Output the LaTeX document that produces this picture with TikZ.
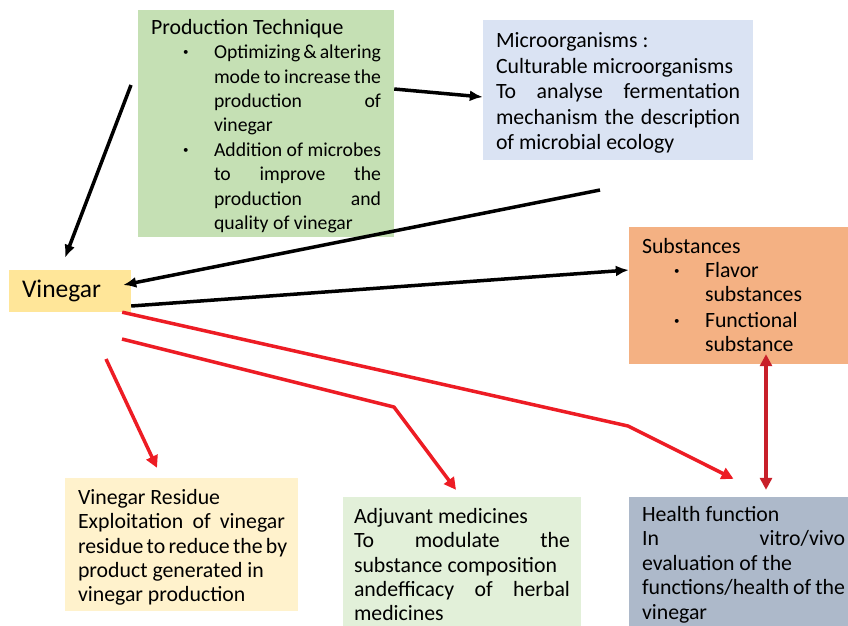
\documentclass[tikz,border=0pt]{standalone}
\usepackage{fontspec}
\setmainfont{Carlito}
\usepackage{xcolor}
\usepackage{tikz}
\usetikzlibrary{arrows.meta}

\definecolor{prodgreen}{HTML}{C5E0B4}
\definecolor{microblue}{HTML}{DAE3F3}
\definecolor{vinyellow}{HTML}{FFE699}
\definecolor{substorange}{HTML}{F4B183}
\definecolor{residyellow}{HTML}{FFF2CC}
\definecolor{adjgreen}{HTML}{E2F0D9}
\definecolor{healthgray}{HTML}{ADB9CA}
\definecolor{arrred}{HTML}{ED1C24}
\definecolor{dblred}{HTML}{C8202A}

\setlength{\lineskip}{0pt}
% bullet line: width of the text, text
\newcommand{\bitem}[2]{\par\noindent\strut\hspace*{32pt}%
  \makebox[31pt][l]{\raisebox{3pt}{\fontsize{11}{11}\selectfont\textbullet}}%
  \parbox[t]{#1}{#2\strut}}
% one justified line
\newcommand{\jline}[1]{\par\hbox to \hsize{#1}}

\begin{document}
\begin{tikzpicture}[x=1pt,y=-1pt]
        \tikzset{box/.style={inner xsep=13pt, inner ysep=0pt, align=justify,
        font=\fontsize{21.8}{24.4}\selectfont},
        blkarrow/.style={line width=3.5pt,-{Latex[length=13pt,width=11pt]}},
        redarrow/.style={draw=arrred,line width=3.5pt,line join=bevel,
        -{Triangle[length=12pt,width=12pt]}},
        dblarrow/.style={draw=dblred,line width=3.5pt,
        {Triangle[length=12pt,width=12pt]}-{Triangle[length=12pt,width=12pt]}}}
        \useasboundingbox (0,0) rectangle (848,625);

        % top row
        \node[box, fill=prodgreen, text width=230pt, minimum width=256pt,
        minimum height=225pt] (prod) at (266,123.5) {\rule{0pt}{24pt}Production Technique
        \bitem{167pt}{\fontsize{19.7}{24.2}\selectfont
        \jline{Optimizing \& altering}\jline{mode to increase the}%
        \jline{production of}\par vinegar}
        \bitem{167pt}{\fontsize{19.7}{24.2}\selectfont
        \jline{Addition of microbes}\jline{to improve the}%
        \jline{production and}\par quality of vinegar}};
        \node[box, fill=microblue, text width=244pt, minimum width=270pt,
        minimum height=140pt, font=\fontsize{21.8}{25.5}\selectfont] (micro) at (618,90)
        {\rule{0pt}{21pt}Microorganisms :\par Culturable microorganisms
        \jline{To analyse fermentation}\jline{mechanism the description}%
        \par of microbial ecology};

        % middle row
        \node[box, fill=vinyellow, text width=96pt, minimum width=122pt,
        minimum height=42pt, align=left, font=\fontsize{25.5}{30}\selectfont]
        (vin) at (70,291) {Vinegar};
        \node[box, fill=substorange, text width=195pt, minimum width=221pt,
        minimum height=137pt] (subst) at (739.5,295.5) {\rule{0pt}{21pt}Substances
        \bitem{131pt}{Flavor\par substances}
        \bitem{131pt}{Functional\par substance}};

        % bottom row
        \node[box, fill=residyellow, text width=207pt, minimum width=230pt,
        minimum height=133pt] (resid) at (181.5,544.5) {\rule{0pt}{21pt}Vinegar Residue
        \jline{Exploitation of vinegar}\jline{residue to reduce the by}%
        \par product generated in\par vinegar production};
        \node[box, fill=adjgreen, text width=216pt, minimum width=238pt,
        minimum height=135pt, inner xsep=11pt] (adjuv) at (462,564.5)
        {Adjuvant medicines
        \jline{To modulate the}\par substance composition
        \jline{andefficacy of herbal}\par medicines};
        \node[box, fill=healthgray, text width=203pt, minimum width=229pt,
        minimum height=135pt] (health) at (743.5,564.5) {Health function
        \jline{In vitro/vivo}\par evaluation of the\par
        functions/health of the\par vinegar};

        % free ends and bends
        \coordinate (prodleft) at (131,85);
        \coordinate (microbelow) at (600,190);
        \coordinate (vinlow) at (122,339);
        \coordinate (vinfoot) at (106,359);
        \coordinate (bendhealth) at (628,426);
        \coordinate (bendadjuv) at (394,407);

        % black arrows
        \draw[blkarrow] (prodleft) -- ([xshift=-5pt,yshift=12pt]vin.north);
        \draw[blkarrow] ([yshift=34.5pt]prod.east) -- ([yshift=-7pt]micro.west);
        \draw[blkarrow] (microbelow) -- ([xshift=-8pt,yshift=6pt]vin.east);
        \draw[blkarrow] ([yshift=-15pt]vin.east) -- ([yshift=25.5pt]subst.west);

        % red arrows
        \draw[redarrow] ([xshift=-9pt]vin.south east) -- (bendhealth)
        -- ([xshift=-10pt,yshift=18pt]health.north);
        \draw[redarrow] (vinlow) -- (bendadjuv) -- ([xshift=-6pt,yshift=7pt]adjuv.north);
        \draw[redarrow] (vinfoot) -- ([xshift=-24.5pt,yshift=10pt]resid.north);
        \draw[dblarrow] ([xshift=26.5pt,yshift=10pt]subst.south)
        -- ([xshift=22.5pt,yshift=7pt]health.north);
    \end{tikzpicture}
\end{document}
